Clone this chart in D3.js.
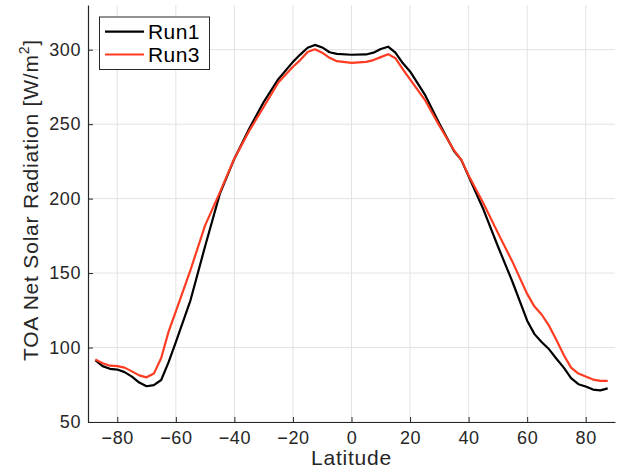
<!DOCTYPE html>
<html>
<head>
<meta charset="utf-8">
<script src="https://cdn.jsdelivr.net/npm/d3@7"></script>
<style>
  html, body { margin: 0; padding: 0; background: #fff; }
  svg { display: block; font-family: "Liberation Sans", Arial, Helvetica, sans-serif; }
</style>
</head>
<body>
<svg id="chart" width="621" height="472"></svg>
<script>
const latitudes = [-87.5, -85, -82.5, -80, -77.5, -75, -72.5, -70, -67.5, -65, -62.5, -60, -55, -50, -45, -40, -35, -30, -25, -20, -17.5, -15, -12.5, -10, -7.5, -5, 0, 5, 7.5, 10, 12.5, 15, 17.5, 20, 25, 30, 35, 37.5, 40, 45, 50, 55, 60, 62.5, 65, 67.5, 70, 72.5, 75, 77.5, 80, 82.5, 85, 87.5];
const run1 = [91.5, 87.5, 85.7, 85.2, 83.5, 80.5, 76.5, 74, 74.8, 78.2, 90, 103.7, 131.7, 168, 203, 226.8, 246.8, 264.8, 280.2, 291.8, 296.7, 301.3, 303.2, 301.5, 298.3, 297.2, 296.6, 296.8, 298, 300.5, 302, 298, 291, 285.4, 270, 250.5, 232, 226, 215, 193, 168, 144, 118, 109, 103.5, 98.8, 92.5, 86.5, 79.5, 75.4, 73.8, 71.8, 71.2, 72.6];
const run3 = [92, 89.5, 87.8, 87.5, 86.5, 84, 81.3, 80, 82.5, 93, 110.5, 124.3, 152, 182, 204, 227, 245.3, 261.5, 278, 288.5, 293, 298.5, 300.3, 298, 294.5, 292.3, 291.2, 291.8, 293, 295, 297, 294.3, 287, 280, 266.5, 249, 232.5, 226, 215.5, 197, 177, 157.5, 136, 127.5, 122, 114.5, 105, 95, 86.5, 82.5, 80.5, 78.5, 77.6, 77.6];
const seriesNames = ["Run1", "Run3"];
const seriesColors = ["#000000", "#ff3b22"];
const xTicks = [-80, -60, -40, -20, 0, 20, 40, 60, 80];
const yTicks = [50, 100, 150, 200, 250, 300];

const svg = d3.select("#chart");
const x = d3.scaleLinear().domain([-90, 90]).range([88, 615]);
const y = d3.scaleLinear().domain([50, 330]).range([422, 5]);
const axisColor = "#262626";

// grid
svg.append("g").selectAll("line").data(xTicks).join("line")
  .attr("x1", d => x(d)).attr("x2", d => x(d))
  .attr("y1", y(330)).attr("y2", y(50))
  .attr("stroke", "#e3e3e3").attr("stroke-width", 1);
svg.append("g").selectAll("line").data(yTicks).join("line")
  .attr("x1", x(-90)).attr("x2", x(90))
  .attr("y1", d => y(d)).attr("y2", d => y(d))
  .attr("stroke", "#e3e3e3").attr("stroke-width", 1);

// axes
const xAxis = svg.append("g").attr("transform", `translate(0,${y(50)})`)
  .call(d3.axisBottom(x).tickValues(xTicks).tickSizeInner(-5).tickSizeOuter(0).tickPadding(9));
const yAxis = svg.append("g").attr("transform", `translate(${x(-90)},0)`)
  .call(d3.axisLeft(y).tickValues(yTicks).tickSizeInner(-5).tickSizeOuter(0).tickPadding(7));
[xAxis, yAxis].forEach(g => {
  g.select(".domain").attr("stroke", axisColor).attr("stroke-width", 1.2);
  g.selectAll(".tick line").attr("stroke", axisColor);
  g.selectAll(".tick text").attr("fill", axisColor)
    .style("font-size", "18px").style("letter-spacing", "0.6px")
    .style("font-family", '"Liberation Sans", Arial, sans-serif');
});

// lines
const line = d3.line().x((d, i) => x(latitudes[i])).y(d => y(d));
[run1, run3].forEach((vals, k) => {
  svg.append("path").datum(vals)
    .attr("fill", "none")
    .attr("stroke", seriesColors[k])
    .attr("stroke-width", 2.2)
    .attr("stroke-linejoin", "round")
    .attr("d", line);
});

// axis labels
svg.append("text").attr("x", x(0)).attr("y", 465)
  .attr("text-anchor", "middle").attr("fill", axisColor)
  .style("font-size", "21px").style("letter-spacing", "0.8px").text("Latitude");
const yl = svg.append("text")
  .attr("transform", `translate(38,200) rotate(-90)`)
  .attr("text-anchor", "middle").attr("fill", axisColor)
  .style("font-size", "21px").style("letter-spacing", "0.8px");
yl.append("tspan").text("TOA Net Solar Radiation [W/m");
yl.append("tspan").attr("dy", -9).style("font-size", "14px").text("2");
yl.append("tspan").attr("dy", 9).text("]");

// legend
const lg = svg.append("g");
lg.append("rect").attr("x", 99.5).attr("y", 17).attr("width", 110).attr("height", 52.5)
  .attr("fill", "#fff").attr("stroke", axisColor).attr("stroke-width", 1);
seriesNames.forEach((name, i) => {
  const yy = 31.7 + i * 22.8;
  lg.append("line").attr("x1", 105).attr("x2", 144).attr("y1", yy).attr("y2", yy)
    .attr("stroke", seriesColors[i]).attr("stroke-width", 2.2);
  lg.append("text").attr("x", 148).attr("y", yy + 7).attr("fill", "#000")
    .style("font-size", "21px").style("letter-spacing", "0.4px").text(name);
});
</script>
</body>
</html>
